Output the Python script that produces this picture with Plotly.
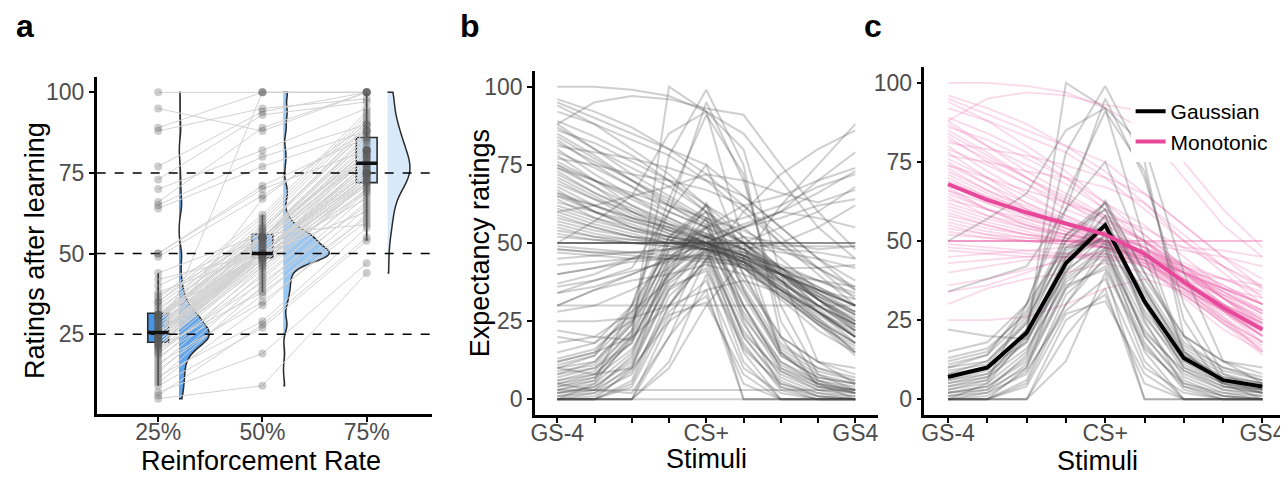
import numpy as np
import plotly.graph_objects as go

# ---------------- data: panel a (ratings after learning) ----------------
rates = ["25%", "50%", "75%"]
r25 = [100, 95, 89, 88, 77, 73, 70, 66, 65, 64, 50, 50, 49,
       7, 6, 5,
       9, 10, 11, 12, 13, 14, 15, 16, 17, 18,
       19, 19, 20, 20, 21, 21, 21, 22, 22, 22,
       22, 23, 23, 23, 23, 24, 24, 24, 24, 24,
       25, 25, 25, 25, 25, 25, 25, 25, 25, 25, 25, 25, 25, 25, 25,
       26, 26, 26, 27, 27, 27, 28, 28, 28, 29, 29, 29, 30, 30, 30, 30, 30,
       31, 31, 31, 31, 31, 31, 31,
       32, 33, 34, 35, 35, 36, 37, 38, 40, 42, 44]
r50 = [100, 88, 100, 95, 94, 93, 82, 89, 80, 77, 71, 70, 68,
       19, 28, 9,
       27, 34, 40, 29, 42, 37, 44, 35, 46, 39,
       43, 45, 41, 47, 38, 50, 48, 46, 50, 48.5,
       47, 49, 50, 48, 100, 50, 49, 52, 50, 48,
       50, 51, 50, 49, 50, 53, 50, 55, 50, 52, 50, 54, 50, 49, 67,
       50, 55, 51, 50, 53, 55, 50, 52, 54, 55, 50, 56, 55, 50, 57, 53, 55,
       50, 58, 55, 50, 59, 54, 55,
       60, 55, 57, 61, 58, 62, 55, 50, 55, 50, 56]
r75 = [100, 100, 100, 98, 100, 97, 95, 100, 90, 88, 86, 82, 88,
       47, 55, 44,
       54, 62, 68, 58, 70, 64, 72, 60, 73, 66,
       69, 72, 65, 74, 61, 75, 71, 70, 78, 73,
       72, 74, 76, 69, 100, 75, 73, 80, 75, 71,
       75, 77, 76, 72, 78, 80, 75, 82, 74, 79, 75, 82, 77, 74, 90,
       76, 83, 78, 75, 81, 82, 80, 79, 84, 85, 75, 86, 82, 77, 88, 81, 87,
       75, 89, 82, 78, 91, 80, 86,
       92, 82, 90, 93, 88, 94, 81, 63, 85, 67, 59]

# ---------------- data: panels b/c (expectancy ratings per stimulus) ----------------
stimuli = ["GS-4", "GS-3", "GS-2", "GS-1", "CS+", "GS1", "GS2", "GS3", "GS4"]
stim_labels = ["GS-4", "", "", "", "CS+", "", "", "", "GS4"]

gaussian = [
    [0, 0, 0, 12, 40, 0, 0, 0, 0],
    [0, 0, 5, 30, 48, 15, 0, 0, 0],
    [2, 3, 10, 35, 50, 20, 5, 2, 0],
    [5, 8, 20, 45, 55, 30, 10, 5, 3],
    [10, 12, 25, 50, 60, 35, 15, 8, 5],
    [0, 0, 0, 20, 35, 0, 0, 0, 0],
    [8, 10, 18, 40, 52, 28, 12, 6, 4],
    [3, 5, 15, 38, 47, 22, 8, 3, 1],
    [12, 15, 28, 52, 62, 40, 18, 10, 6],
    [0, 2, 8, 30, 45, 18, 3, 0, 0],
    [50, 57, 65, 85, 92, 80, 40, 12, 5],
    [34, 38, 42, 60, 95, 70, 30, 8, 3],
    [0, 5, 20, 100, 92, 50, 15, 5, 0],
    [6, 9, 22, 78, 99, 75, 20, 4, 2],
    [4, 6, 30, 64, 91, 72, 25, 6, 2],
    [22, 20, 19, 40, 63, 40, 20, 12, 8],
    [2, 4, 12, 36, 41, 16, 5, 1, 0],
    [0, 0, 10, 42, 58, 25, 4, 0, 0],
    [9, 11, 24, 47, 53, 33, 14, 7, 5],
    [1, 3, 14, 44, 56, 27, 9, 3, 2],
    [7, 10, 22, 48, 50, 30, 10, 4, 2],
    [15, 18, 30, 48, 55, 38, 20, 12, 10],
    [0, 0, 6, 33, 44, 12, 0, 0, 0],
    [11, 14, 26, 46, 51, 34, 16, 9, 6],
    [3, 6, 19, 41, 49, 24, 7, 2, 1],
    [0, 0, 0, 25, 33, 5, 0, 0, 0],
    [5, 7, 16, 37, 46, 21, 9, 4, 3],
    [13, 16, 27, 50, 62, 36, 17, 10, 7],
    [2, 4, 13, 39, 48, 20, 6, 1, 0],
    [8, 12, 24, 52, 60, 35, 14, 7, 5],
    [0, 1, 9, 28, 38, 10, 2, 0, 0],
    [6, 8, 18, 43, 52, 26, 11, 5, 3],
    [10, 14, 30, 60, 75, 45, 15, 6, 3],
    [1, 2, 11, 35, 42, 17, 4, 1, 0],
    [4, 7, 21, 45, 58, 30, 12, 5, 2],
    [0, 0, 4, 27, 31, 8, 0, 0, 0],
]

monotonic = [
    [100, 100, 99, 97, 92, 85, 70, 55, 45],
    [95, 90, 85, 80, 75, 65, 55, 45, 38],
    [92, 88, 83, 78, 70, 60, 50, 42, 35],
    [88, 95, 97, 96, 93, 91, 75, 60, 48],
    [88, 80, 72, 65, 58, 50, 40, 30, 22],
    [86, 82, 76, 70, 62, 55, 45, 35, 28],
    [85, 78, 70, 62, 55, 48, 38, 28, 20],
    [83, 75, 68, 60, 55, 50, 42, 35, 30],
    [82, 76, 70, 63, 57, 50, 40, 30, 22],
    [80, 72, 65, 58, 52, 45, 35, 25, 18],
    [78, 70, 62, 56, 50, 42, 32, 22, 15],
    [76, 70, 64, 58, 53, 48, 40, 32, 25],
    [75, 68, 60, 55, 50, 44, 35, 28, 20],
    [74, 68, 62, 57, 52, 46, 38, 30, 24],
    [73, 66, 60, 54, 50, 43, 33, 24, 17],
    [72, 66, 61, 56, 52, 47, 40, 33, 27],
    [70, 64, 58, 53, 49, 44, 36, 28, 21],
    [68, 62, 57, 53, 50, 45, 37, 30, 24],
    [67, 60, 55, 51, 48, 42, 33, 25, 18],
    [66, 62, 58, 55, 52, 48, 42, 36, 30],
    [65, 60, 56, 52, 49, 43, 35, 27, 20],
    [64, 58, 54, 51, 48, 42, 33, 24, 16],
    [62, 58, 55, 52, 50, 46, 40, 34, 28],
    [60, 56, 53, 50, 48, 44, 37, 30, 23],
    [58, 55, 52, 50, 48, 45, 40, 35, 30],
    [56, 53, 51, 50, 49, 47, 43, 38, 33],
    [55, 52, 50, 49, 48, 46, 42, 38, 34],
    [54, 52, 51, 50, 50, 50, 50, 50, 50],
    [52, 51, 50, 50, 50, 49, 47, 45, 42],
    [50, 50, 50, 50, 50, 50, 50, 50, 50],
    [50, 50, 50, 50, 50, 50, 48, 47, 45],
    [50, 50, 50, 50, 50, 45, 40, 35, 30],
    [50, 50, 50, 50, 49, 44, 35, 25, 15],
    [49, 48, 47, 46, 45, 42, 38, 33, 28],
    [48, 47, 46, 45, 45, 44, 40, 35, 30],
    [45, 46, 47, 48, 48, 45, 40, 34, 27],
    [43, 44, 45, 46, 46, 42, 35, 28, 20],
    [40, 42, 44, 45, 46, 43, 36, 28, 22],
    [36, 38, 41, 44, 47, 44, 38, 30, 24],
    [34, 36, 40, 45, 50, 46, 40, 32, 26],
    [30, 35, 38, 40, 43, 40, 35, 28, 20],
    [25, 25, 26, 30, 35, 38, 34, 26, 18],
    [94, 88, 80, 72, 62, 52, 42, 32, 22],
    [89, 84, 78, 70, 60, 50, 38, 28, 18],
    [87, 80, 74, 68, 60, 52, 42, 32, 23],
    [84, 77, 70, 64, 57, 50, 41, 32, 24],
    [79, 74, 68, 62, 56, 50, 42, 34, 27],
    [77, 75, 72, 70, 67, 62, 52, 42, 32],
    [71, 65, 59, 54, 50, 44, 34, 24, 14],
    [69, 64, 60, 56, 53, 48, 40, 32, 25],
    [63, 60, 57, 54, 52, 48, 41, 33, 25],
    [61, 57, 54, 52, 50, 46, 38, 29, 20],
    [59, 55, 52, 50, 48, 44, 36, 26, 15],
    [57, 54, 52, 51, 50, 47, 42, 36, 30],
    [53, 51, 50, 49, 48, 45, 39, 32, 24],
    [81, 79, 77, 74, 70, 65, 55, 45, 35],
    [96, 92, 87, 80, 72, 62, 50, 40, 30],
    [66, 60, 55, 52, 50, 46, 40, 35, 32],
    [74, 70, 66, 62, 58, 54, 48, 42, 36],
    [47, 46, 45, 45, 44, 43, 40, 38, 36],
]

other = [
    [0, 0, 0, 10, 30, 45, 62, 75, 88],
    [5, 3, 2, 20, 45, 60, 72, 80, 86],
    [10, 8, 10, 25, 50, 55, 60, 70, 79],
    [20, 18, 25, 40, 55, 62, 65, 70, 74],
    [30, 30, 30, 30, 30, 30, 30, 30, 30],
    [48, 47, 47, 48, 50, 55, 60, 66, 73],
    [65, 62, 58, 55, 50, 48, 50, 55, 62],
    [75, 70, 65, 60, 55, 58, 62, 68, 72],
    [40, 42, 45, 48, 52, 56, 60, 58, 55],
    [50, 50, 50, 50, 50, 50, 50, 50, 50],
    [0, 0, 0, 0, 0, 0, 0, 0, 0],
    [3, 3, 3, 3, 3, 3, 3, 3, 3],
    [60, 62, 65, 68, 72, 70, 66, 63, 67],
    [30, 35, 40, 45, 50, 55, 58, 62, 64],
    [12, 15, 20, 30, 45, 50, 55, 60, 68],
    [18, 20, 28, 38, 48, 52, 50, 48, 49],
    [37, 40, 45, 50, 52, 50, 49, 49, 49],
    [28, 30, 35, 42, 50, 46, 42, 42, 43],
]

gaussian_mean = [7, 10, 21, 43, 55, 31, 13, 6, 4]
monotonic_mean = [68, 63, 59, 55.5, 52, 46, 37, 29, 22]

# ---------------- style ----------------
FONT = "Liberation Sans, Arial, Helvetica, sans-serif"
W, H = 1280, 470          # page has an 8px body margin; page px = 8 + figure px
OFF = 8
TICKC = "#4d4d4d"
violin_fill = ["rgba(74,152,232,0.88)", "rgba(140,190,240,0.88)", "rgba(212,231,250,0.9)"]
box_fill = ["rgba(50,138,226,0.9)", "rgba(120,180,240,0.9)", "rgba(200,225,250,0.9)"]
XR_A = [0.41, 3.63]
XR_S = [0.4, 9.6]


def px(x):
    return (x - OFF) / W


def py(y):
    return 1 - (y - OFF) / H


fig = go.Figure()
xs = list(range(1, len(stimuli) + 1))

# ---------------- panel a ----------------
lx, ly = [], []
for a, b, c in zip(r25, r50, r75):
    lx += [1, 2, 3, None]
    ly += [a, b, c, None]
fig.add_trace(go.Scatter(x=lx, y=ly, mode="lines", line=dict(color="#d2d2d2", width=1),
                         showlegend=False, hoverinfo="skip", xaxis="x", yaxis="y"))
for lev in [25, 50, 75]:
    fig.add_trace(go.Scatter(x=XR_A, y=[lev, lev], mode="lines",
                             line=dict(color="black", width=1.4, dash="dash"),
                             showlegend=False, hoverinfo="skip", xaxis="x", yaxis="y"))

groups = [r25, r50, r75]
vwidth = [0.58, 0.88, 0.43]
for i, vals in enumerate(groups):
    pos = i + 1
    fig.add_trace(go.Violin(y=vals, x0=pos + 0.2, side="positive", width=vwidth[i],
                            fillcolor=violin_fill[i], line=dict(color="#2b2b2b", width=1.5),
                            points=False, spanmode="hard", scalemode="width",
                            box=dict(visible=False), meanline=dict(visible=False),
                            showlegend=False, hoverinfo="skip", xaxis="x", yaxis="y"))
    fig.add_trace(go.Box(y=vals, x0=pos, width=0.2, fillcolor=box_fill[i],
                         line=dict(color="#2b2b2b", width=1.6), whiskerwidth=0,
                         boxpoints="outliers", marker=dict(opacity=0),
                         showlegend=False, hoverinfo="skip", xaxis="x", yaxis="y"))
    fig.add_trace(go.Scatter(x=[pos] * len(vals), y=vals, mode="markers",
                             marker=dict(size=8, color="rgba(90,90,90,0.3)"),
                             showlegend=False, hoverinfo="skip", xaxis="x", yaxis="y"))
    med = float(np.median(vals))
    fig.add_trace(go.Scatter(x=[pos - 0.1, pos + 0.1], y=[med, med], mode="lines",
                             line=dict(color="#111111", width=3.5),
                             showlegend=False, hoverinfo="skip", xaxis="x", yaxis="y"))

# ---------------- panel b ----------------
all_subjects = []
for k in range(max(len(gaussian), len(monotonic), len(other))):
    for grp in (monotonic, gaussian, other):
        if k < len(grp):
            all_subjects.append(grp[k])
for s in all_subjects:
    fig.add_trace(go.Scatter(x=xs, y=s, mode="lines", line=dict(color="rgba(70,70,70,0.26)", width=2),
                             showlegend=False, hoverinfo="skip", xaxis="x2", yaxis="y2"))

# ---------------- panel c ----------------
for s in monotonic:
    fig.add_trace(go.Scatter(x=xs, y=s, mode="lines", line=dict(color="rgba(238,120,180,0.28)", width=1.8),
                             showlegend=False, hoverinfo="skip", xaxis="x3", yaxis="y3"))
for s in gaussian:
    fig.add_trace(go.Scatter(x=xs, y=s, mode="lines", line=dict(color="rgba(70,70,70,0.26)", width=2),
                             showlegend=False, hoverinfo="skip", xaxis="x3", yaxis="y3"))
fig.add_trace(go.Scatter(x=xs, y=gaussian_mean, mode="lines", name="Gaussian",
                         line=dict(color="black", width=4), xaxis="x3", yaxis="y3"))
fig.add_trace(go.Scatter(x=xs, y=monotonic_mean, mode="lines", name="Monotonic",
                         line=dict(color="#e8489a", width=4), xaxis="x3", yaxis="y3"))

# ---------------- axes ----------------
axbase = dict(showline=True, linecolor="black", linewidth=2.5, ticks="outside", ticklen=5,
              tickwidth=1.5, tickcolor="black", showgrid=False, zeroline=False,
              tickfont=dict(family=FONT, size=23, color=TICKC))
xbase = dict(axbase, ticklabelstandoff=-9)

fig.update_layout(
    width=W, height=H, margin=dict(l=0, r=0, t=0, b=0),
    plot_bgcolor="white", paper_bgcolor="white",
    violinmode="overlay", boxmode="overlay",
    font=dict(family=FONT),
    xaxis=dict(xbase, domain=[px(93), px(430)], range=XR_A, type="linear",
               tickvals=[1, 2, 3], ticktext=rates, anchor="y"),
    yaxis=dict(axbase, domain=[py(414), py(77)], range=[0.25, 104.75],
               tickvals=[25, 50, 75, 100], anchor="x"),
    xaxis2=dict(xbase, domain=[px(533), px(877)], range=XR_S, type="linear",
                tickvals=xs, ticktext=stim_labels, anchor="y2"),
    yaxis2=dict(axbase, domain=[py(415), py(71)], range=[-5, 105],
                tickvals=[0, 25, 50, 75, 100], anchor="x2"),
    xaxis3=dict(xbase, domain=[px(924), px(1287)], range=XR_S, type="linear",
                tickvals=xs, ticktext=stim_labels, anchor="y3"),
    yaxis3=dict(axbase, domain=[py(415), py(67)], range=[-5, 105],
                tickvals=[0, 25, 50, 75, 100], anchor="x3"),
    legend=dict(x=px(1131), y=py(91), xanchor="left", yanchor="top",
                bgcolor="white", borderwidth=0,
                font=dict(family=FONT, size=21, color="black"),
                tracegroupgap=0, itemwidth=30),
    showlegend=True,
)

for t, x in [("a", 21), ("b", 468), ("c", 872)]:
    fig.add_annotation(text="<b>%s</b>" % t, x=px(x), y=py(26), xref="paper", yref="paper",
                       xanchor="center", yanchor="middle", showarrow=False,
                       font=dict(family=FONT, size=32, color="black"))

titles = [
    ("Reinforcement Rate", 258, 461, 0),
    ("Stimuli", 705, 459, 0),
    ("Stimuli", 1098, 461, 0),
    ("Ratings after learning", 31, 250, -90),
    ("Expectancy ratings", 478, 243, -90),
]
for t, x, y, ang in titles:
    fig.add_annotation(text=t, x=px(x), y=py(y), xref="paper", yref="paper", showarrow=False,
                       xanchor="center", yanchor="middle", textangle=ang,
                       font=dict(family=FONT, size=27, color="black"))

fig.write_html("out.html")
